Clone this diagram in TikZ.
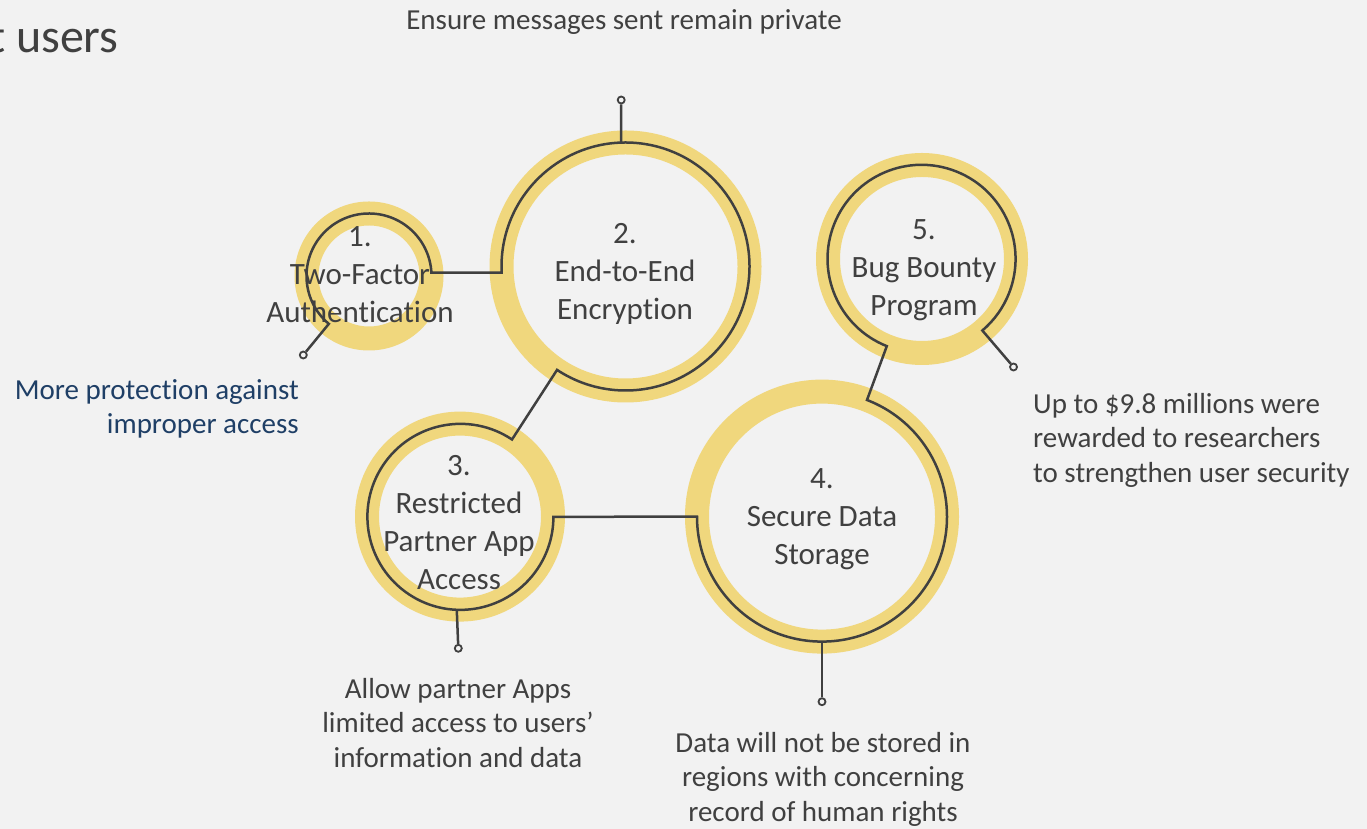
\documentclass[tikz,border=0pt]{standalone}
\usepackage{fontspec}
\setmainfont{Carlito}[Ligatures={CommonOff,ContextualOff}]
\definecolor{bg}{HTML}{F2F2F2}
\definecolor{ring}{HTML}{F0D77D}
\definecolor{ink}{HTML}{404040}
\definecolor{navy}{HTML}{1F3F66}
\tikzset{
  ringnode/.style={circle, draw=ring, line width=24pt, inner sep=0pt, outer sep=0pt, minimum size=#1},
  wire/.style={draw=ink, line width=2.5pt, line join=miter},
  pin/.style={circle, draw=ink, fill=bg, line width=1.8pt, minimum size=7pt, inner sep=0pt},
  title/.style={font=\fontsize{31}{38}\selectfont, text=ink, align=center, inner sep=0pt, anchor=north},
  note/.style={font=\fontsize{29}{34.5}\selectfont, text=ink, inner sep=0pt},
}
\begin{document}
\begin{tikzpicture}[x=1pt,y=1pt]
\fill[bg] (0,0) rectangle (1367,829);
\useasboundingbox (0,0) rectangle (1367,829);

% heading fragment
\node[anchor=base west, inner sep=0pt, text=ink, font=\fontsize{48}{56}\selectfont] (head) at (-11,776) {t users};

% rings
\node[ringnode=125pt] (c1) at (369,553) {};
\node[ringnode=248pt] (c2) at (625.5,562.5) {};
\node[ringnode=186pt] (c3) at (460,312.4) {};
\node[ringnode=250pt] (c4) at (822,312.4) {};
\node[ringnode=188pt] (c5) at (922,570) {};

% ring titles
\node[title] (t1) at (360,608.9) {\strut 1.\\Two-Factor\\Authentication};
\node[title] (t2) at (625,612.3) {\strut 2.\\End-to-End\\Encryption};
\node[title] (t3) at (459,380.6) {\strut 3.\\Restricted\\Partner App\\Access};
\node[title] (t4) at (822,367.3) {\strut 4.\\Secure Data\\Storage};
\node[title] (t5) at (924,616.3) {\strut 5.\\Bug Bounty\\Program};

% pins
\node[pin] (d1) at (303.3,474) {};
\node[pin] (d2) at (621.2,729) {};
\node[pin] (d3) at (458.3,180.7) {};
\node[pin] (d4) at (822,127.3) {};
\node[pin] (d5) at (1013.5,462) {};
\coordinate (k1) at (c2.177 |- c1.3);

% main wire through all rings
\draw[wire] (d1) -- (c1.230) arc[start angle=230, end angle=3, radius=62.5pt]
  -- (k1) -- (c2.177) arc[start angle=177, end angle=-123.5, radius=124pt]
  -- (c3.56.3) arc[start angle=56.3, end angle=360, radius=93pt]
  -- (c4.180) arc[start angle=180, end angle=428.9, radius=125pt]
  -- (c5.248.3) arc[start angle=248.3, end angle=-49.7, radius=94pt]
  -- (d5);
\draw[wire] (c2.92) -- (d2);
\draw[wire] (c3.268.3) -- (d3);
\draw[wire] (c4.270) -- (d4);

% notes
\node[note, anchor=north, align=center] (n2) at (624,823.85) {\strut Ensure messages sent remain private};
\node[note, anchor=north east, align=right, text=navy] (n1) at (299,453.85) {\strut More protection against\\improper access};
\node[note, anchor=north, align=center] (n3) at (458,155.15) {\strut Allow partner Apps\\limited access to users’\\information and data};
\node[note, anchor=north, align=center] (n4) at (823,101.15) {\strut Data will not be stored in\\regions with concerning\\record of human rights};
\node[note, anchor=north west, align=left] (n5) at (1033,439.85) {\strut Up to \$9.8 millions were\\rewarded to researchers\\to strengthen user security};
\end{tikzpicture}
\end{document}
